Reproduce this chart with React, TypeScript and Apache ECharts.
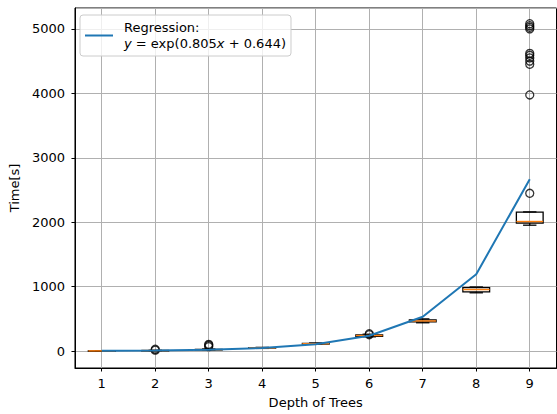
import React, { useEffect, useRef } from "react";
import * as echarts from "echarts";

const depths = ["1", "2", "3", "4", "5", "6", "7", "8", "9"];
// [min whisker, Q1, median, Q3, max whisker]
const boxStats: number[][] = [
  [2, 3, 4, 5, 6],
  [4, 6, 8, 10, 13],
  [14, 18, 22, 27, 32],
  [42, 46, 50, 54, 58],
  [106, 110, 115, 120, 126],
  [222, 230, 242, 252, 262],
  [440, 455, 468, 485, 500],
  [905, 920, 955, 985, 995],
  [1954, 1986, 2011, 2156, 2160],
];
const outlierDepth = [1, 1, 2, 2, 2, 5, 5, 8, 8, 8, 8, 8, 8, 8, 8, 8, 8, 8];
const outlierValue = [15, 30, 70, 90, 105, 255, 270, 2449, 3975, 4450, 4500, 4550, 4590, 4620, 5000, 5025, 5050, 5080];
const regression = [4.3, 9.5, 21.3, 47.7, 106.6, 238.4, 533, 1193, 2667];
const yTicks = [0, 1000, 2000, 3000, 4000, 5000];

const FONT = "DejaVu Sans";
const FS = 13;

export default function App() {
  const ref = useRef<HTMLDivElement>(null);
  useEffect(() => {
    if (!ref.current) return;
    const chart = echarts.init(ref.current, undefined, { renderer: "svg" });
    const boxData = boxStats.map((s, i) => [i, ...s]);
    const outData = outlierDepth.map((d, i) => [d, outlierValue[i]]);
    chart.setOption({
      animation: false,
      textStyle: { fontFamily: FONT, color: "#000" },
      grid: {
        left: 73,
        top: 8,
        width: 483.5,
        height: 362,
        show: true,
        borderColor: "#000",
        borderWidth: 1,
        backgroundColor: "transparent",
      },
      legend: {
        data: [{ name: "Regression", icon: "rect" }],
        left: 80,
        top: 15,
        orient: "vertical",
        itemWidth: 28,
        itemHeight: 2,
        itemGap: 0,
        padding: [5, 5, 5, 5],
        backgroundColor: "rgba(255,255,255,0.8)",
        borderColor: "#cccccc",
        borderWidth: 1,
        borderRadius: 3,
        itemStyle: { color: "#1f77b4", borderWidth: 0 },
        formatter: () => "Regression:\n{i|y} = exp(0.805{i|x} + 0.644)",
        textStyle: {
          fontFamily: FONT,
          fontSize: FS,
          color: "#000",
          lineHeight: 15.5,
          padding: [0, 0, 0, 6],
          rich: {
            i: { fontFamily: FONT, fontSize: FS, fontStyle: "italic", color: "#000", lineHeight: 15.5 },
          },
        },
      },
      xAxis: {
        type: "category",
        data: depths,
        boundaryGap: true,
        name: "Depth of Trees",
        nameLocation: "middle",
        nameGap: 28,
        nameTextStyle: { fontFamily: FONT, fontSize: FS, color: "#000" },
        axisLine: { show: true, onZero: false, lineStyle: { color: "#000", width: 1 } },
        axisTick: { show: true, alignWithLabel: true, length: 3.5, lineStyle: { color: "#000", width: 1 } },
        axisLabel: { fontFamily: FONT, fontSize: FS, color: "#000", margin: 9 },
        splitLine: { show: true, alignWithLabel: true, lineStyle: { color: "#b0b0b0", width: 1 } },
      },
      yAxis: {
        type: "value",
        min: -262,
        max: 5324,
        splitNumber: 5,
        name: "Time[s]",
        nameLocation: "middle",
        nameGap: 50,
        nameRotate: 90,
        nameTextStyle: { fontFamily: FONT, fontSize: FS, color: "#000" },
        axisLine: { show: true, lineStyle: { color: "#000", width: 1 } },
        axisTick: { show: true, length: 3.5, lineStyle: { color: "#000", width: 1 } },
        axisLabel: {
          fontFamily: FONT,
          fontSize: FS,
          color: "#000",
          margin: 10,
          showMinLabel: false,
          showMaxLabel: false,
          formatter: (v: number) => (yTicks.indexOf(v) >= 0 ? String(v) : ""),
        },
        splitLine: { show: true, lineStyle: { color: "#b0b0b0", width: 1 } },
      },
      series: [
        {
          type: "custom",
          name: "box",
          data: boxData,
          encode: { x: 0, y: [1, 2, 3, 4, 5] },
          z: 3,
          renderItem: (params: any, api: any) => {
            const x = api.value(0);
            const pMin = api.coord([x, api.value(1)]);
            const pQ1 = api.coord([x, api.value(2)]);
            const pMed = api.coord([x, api.value(3)]);
            const pQ3 = api.coord([x, api.value(4)]);
            const pMax = api.coord([x, api.value(5)]);
            const band = api.size([1, 0])[0];
            const bw = band * 0.5;
            const cx = pMed[0];
            const black = { stroke: "#000", lineWidth: 1.3, fill: null };
            return {
              type: "group",
              children: [
                { type: "line", shape: { x1: cx, y1: pQ1[1], x2: cx, y2: pMin[1] }, style: black },
                { type: "line", shape: { x1: cx, y1: pQ3[1], x2: cx, y2: pMax[1] }, style: black },
                { type: "line", shape: { x1: cx - bw / 4, y1: pMin[1], x2: cx + bw / 4, y2: pMin[1] }, style: black },
                { type: "line", shape: { x1: cx - bw / 4, y1: pMax[1], x2: cx + bw / 4, y2: pMax[1] }, style: black },
                {
                  type: "rect",
                  shape: { x: cx - bw / 2, y: pQ3[1], width: bw, height: Math.max(pQ1[1] - pQ3[1], 0.5) },
                  style: { stroke: "#000", lineWidth: 1.3, fill: "none" },
                },
                {
                  type: "line",
                  shape: { x1: cx - bw / 2, y1: pMed[1], x2: cx + bw / 2, y2: pMed[1] },
                  style: { stroke: "#ff7f0e", lineWidth: 1.4 },
                },
              ],
            };
          },
        },
        {
          type: "scatter",
          name: "outliers",
          data: outData,
          symbol: "circle",
          symbolSize: 8,
          itemStyle: { color: "transparent", borderColor: "#000", borderWidth: 1.3 },
          z: 4,
        },
        {
          type: "line",
          name: "Regression",
          data: regression,
          symbol: "none",
          showSymbol: false,
          lineStyle: { color: "#1f77b4", width: 2 },
          itemStyle: { color: "#1f77b4" },
          z: 5,
        },
      ],
    });
    return () => chart.dispose();
  }, []);
  return (
    <div
      ref={ref}
      style={{ position: "fixed", left: 0, top: 0, width: 557, height: 414, background: "#fff" }}
    />
  );
}
